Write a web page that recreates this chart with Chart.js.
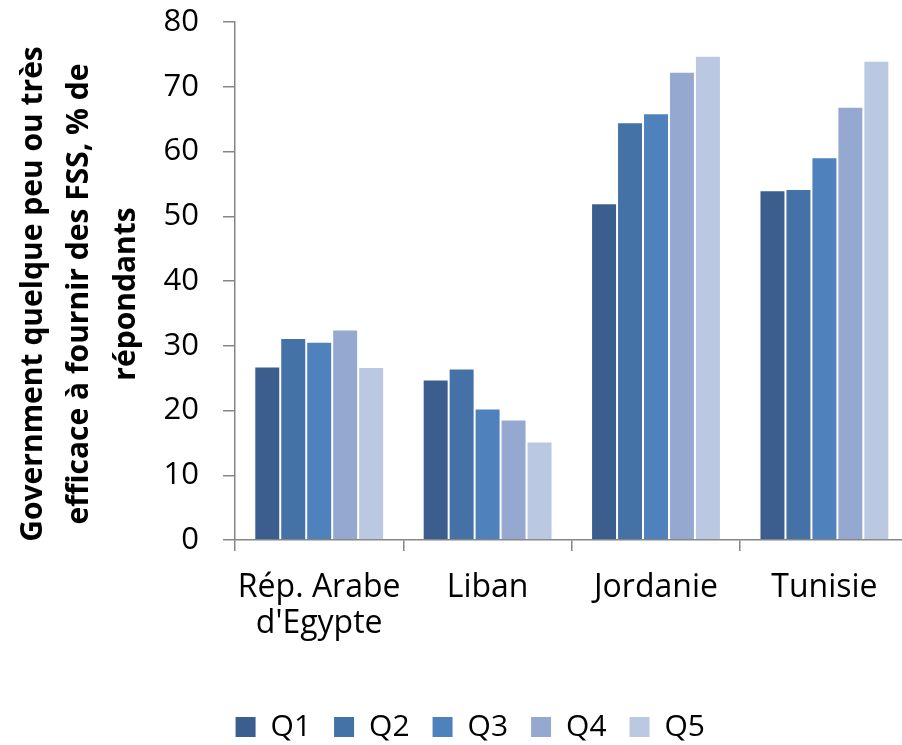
<!DOCTYPE html>
<html>
<head>
<meta charset="utf-8">
<script src="https://cdn.jsdelivr.net/npm/chart.js@4.4.1/dist/chart.umd.min.js"></script>
<style>
  html, body { margin: 0; padding: 0; background: #ffffff; overflow: hidden; }
  #wrap { position: relative; width: 910px; height: 745px; }
</style>
</head>
<body>
<div id="wrap"><canvas id="c"></canvas></div>
<script>
const categories = [['Rép. Arabe', "d'Egypte"], 'Liban', 'Jordanie', 'Tunisie'];
const seriesNames = ['Q1', 'Q2', 'Q3', 'Q4', 'Q5'];
const q1 = [26.8, 24.8, 52.0, 54.0];
const q2 = [31.2, 26.5, 64.5, 54.2];
const q3 = [30.6, 20.3, 65.9, 59.1];
const q4 = [32.5, 18.6, 72.3, 66.9];
const q5 = [26.7, 15.2, 74.8, 74.0];
const yTicks = [0, 10, 20, 30, 40, 50, 60, 70, 80];
const yTitle = ['Government quelque peu ou très', 'efficace à fournir des FSS, % de', 'répondants'];

const colors = ['#3B5E8E', '#4472A6', '#4F81BD', '#95A9D0', '#BBC8E1'];
const values = [q1, q2, q3, q4, q5];
const axisColor = '#868686';
const FONT = "'Open Sans', 'DejaVu Sans', sans-serif";

const legendShift = {
  id: 'legendShift',
  afterLayout(chart) {
    const lg = chart.legend;
    if (lg) { lg.left += 16; lg.right += 16; lg.top += 11; lg.bottom += 11; }
  }
};

new Chart(document.getElementById('c'), {
  type: 'bar',
  data: {
    labels: categories,
    datasets: seriesNames.map((n, i) => ({
      label: n,
      data: values[i],
      backgroundColor: colors[i],
      borderColor: 'rgba(255,255,255,0.45)',
      borderWidth: 1,
      categoryPercentage: 0.771,
      barPercentage: 1.0
    }))
  },
  plugins: [legendShift],
  options: {
    responsive: true,
    maintainAspectRatio: false,
    animation: false,
    layout: { padding: { top: 0, right: 1.4, bottom: 4, left: 0 } },
    plugins: {
      tooltip: { enabled: false },
      legend: {
        position: 'bottom',
        labels: {
          boxWidth: 20,
          boxHeight: 20,
          padding: 23,
          color: '#000000',
          font: { family: FONT, size: 30 },
          generateLabels(chart) {
            return Chart.defaults.plugins.legend.labels.generateLabels(chart).map(l => Object.assign(l, { lineWidth: 0, strokeStyle: 'rgba(0,0,0,0)' }));
          }
        }
      }
    },
    scales: {
      x: {
        afterFit(scale) { scale.height = 138; },
        grid: { display: true, drawOnChartArea: false, drawTicks: true, tickLength: 11, color: axisColor, lineWidth: 1.5, offset: true },
        border: { display: true, color: axisColor, width: 1.5 },
        ticks: { color: '#000000', font: { family: FONT, size: 32, lineHeight: 1.125 }, padding: 18.5, maxRotation: 0, autoSkip: false }
      },
      y: {
        min: 0,
        max: 80,
        afterFit(scale) { scale.width = 235; scale.paddingTop = 22; scale.paddingBottom = 0; },
        afterUpdate(scale) {
          if (!scale._titleShifted) {
            const orig = scale.drawTitle;
            scale.drawTitle = function () {
              const ctx = this.ctx;
              ctx.save();
              ctx.translate(0, 13);
              orig.call(this);
              ctx.restore();
            };
            scale._titleShifted = true;
          }
        },
        afterBuildTicks(scale) { scale.ticks = yTicks.map(v => ({ value: v })); },
        grid: { display: true, drawOnChartArea: false, drawTicks: true, tickLength: 12, color: axisColor, lineWidth: 1.5 },
        border: { display: true, color: axisColor, width: 1.5 },
        ticks: { color: '#000000', font: { family: FONT, size: 31 }, padding: 24 },
        title: {
          display: true,
          text: yTitle,
          color: '#000000',
          font: { family: FONT, size: 30, weight: 'bold', lineHeight: 1.55 },
          padding: { top: 10, bottom: 0 }
        }
      }
    }
  }
});
</script>
</body>
</html>
